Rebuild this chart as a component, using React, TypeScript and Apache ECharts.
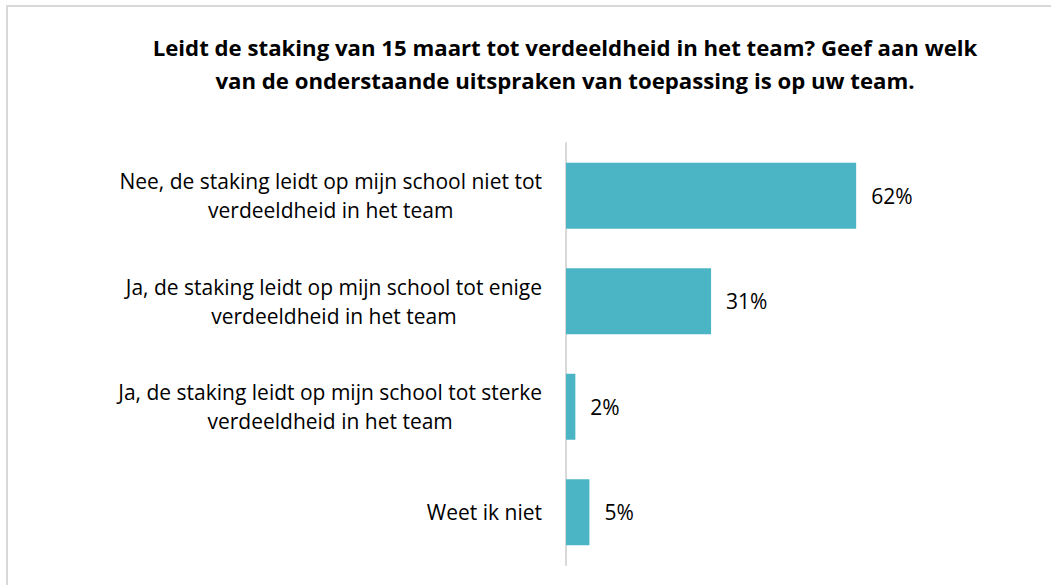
import React, { useEffect, useRef } from "react";
import * as echarts from "echarts";

const titleLines = [
  "Leidt de staking van 15 maart tot verdeeldheid in het team? Geef aan welk",
  "van de onderstaande uitspraken van toepassing is op uw team.",
];
const categories = [
  "Nee, de staking leidt op mijn school niet tot\nverdeeldheid in het team",
  "Ja, de staking leidt op mijn school tot enige\nverdeeldheid in het team",
  "Ja, de staking leidt op mijn school tot sterke\nverdeeldheid in het team",
  "Weet ik niet",
];
const values = [62, 31, 2, 5];

const FONT = "'Open Sans', 'Noto Sans', sans-serif";

export default function App() {
  const ref = useRef<HTMLDivElement>(null);
  useEffect(() => {
    document.body.style.margin = "0";
    if (!ref.current) return;
    const chart = echarts.init(ref.current, undefined, { renderer: "svg" });
    chart.setOption({
      animation: false,
      backgroundColor: "#ffffff",
      grid: { left: 566, top: 143, height: 422, width: 468, containLabel: false },
      xAxis: {
        type: "value",
        min: 0,
        max: 100,
        show: false,
      },
      yAxis: {
        type: "category",
        data: categories,
        inverse: true,
        axisLine: { show: true, lineStyle: { color: "#d9d9d9", width: 2 } },
        axisTick: { show: false },
        splitLine: { show: false },
        axisLabel: {
          margin: 24,
          align: "right",
          formatter: (v: string) =>
            v
              .split("\n")
              .map((l) => `{c|${l}}`)
              .join("\n"),
          rich: {
            c: {
              align: "center",
              fontFamily: FONT,
              fontSize: 21,
              lineHeight: 29,
              color: "#000000",
            },
          },
        },
      },
      series: [
        {
          type: "bar",
          data: values,
          barWidth: 66,
          itemStyle: { color: "#4BB5C5" },
          label: {
            show: true,
            position: "right",
            distance: 15,
            formatter: "{c}%",
            fontFamily: FONT,
            fontSize: 21,
            color: "#000000",
          },
        },
      ],
      graphic: [
        {
          type: "rect",
          shape: { x: 7, y: 6, width: 1200, height: 800 },
          style: { fill: "none", stroke: "#d9d9d9", lineWidth: 2 },
          silent: true,
        },
        {
          type: "text",
          x: 565,
          y: 47,
          style: {
            text: titleLines[0],
            textAlign: "center",
            textVerticalAlign: "middle",
            fontFamily: FONT,
            fontWeight: "bold",
            fontSize: 22.2,
            fill: "#000000",
          },
        },
        {
          type: "text",
          x: 565,
          y: 80,
          style: {
            text: titleLines[1],
            textAlign: "center",
            textVerticalAlign: "middle",
            fontFamily: FONT,
            fontWeight: "bold",
            fontSize: 22.2,
            fill: "#000000",
          },
        },
      ],
    });
    return () => chart.dispose();
  }, []);
  return <div ref={ref} style={{ width: 1051, height: 585 }} />;
}
